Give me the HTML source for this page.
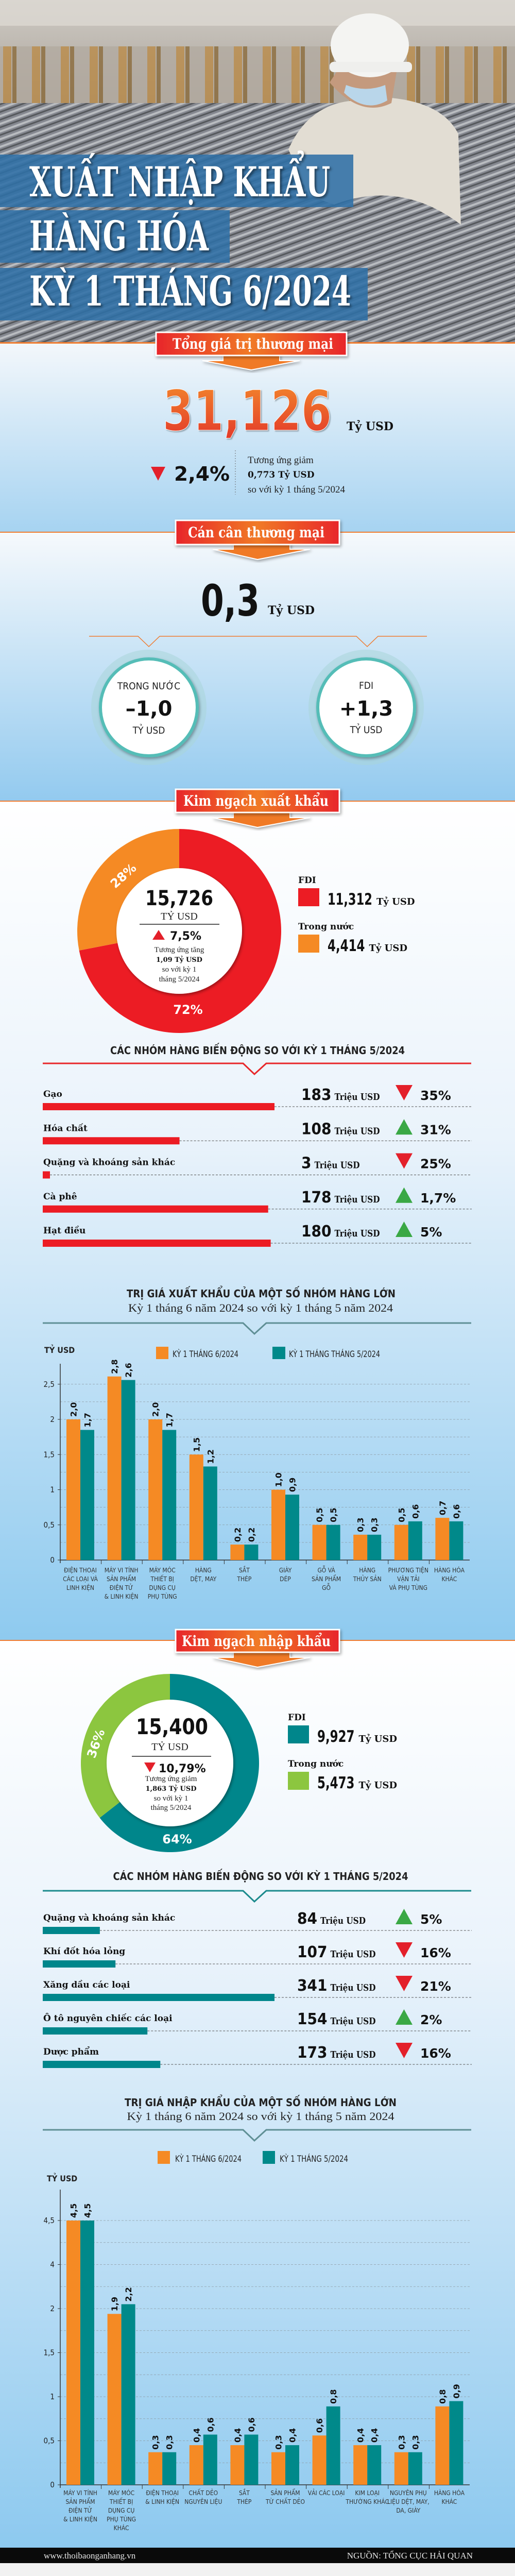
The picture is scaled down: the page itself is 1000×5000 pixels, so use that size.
<!DOCTYPE html>
<html lang="vi">
<head>
<meta charset="utf-8">
<title>Xuất nhập khẩu hàng hóa kỳ 1 tháng 6/2024</title>
<style>
html,body{margin:0;padding:0;background:#fff;}
body{width:1000px;height:5000px;overflow:hidden;}
svg{display:block;}
.sans{font-family:"Liberation Sans","DejaVu Sans",sans-serif;}
.narrow{font-family:"Liberation Sans Narrow","DejaVu Sans Condensed","Liberation Sans",sans-serif;}
.serif{font-family:"Liberation Serif","DejaVu Serif",serif;}
.slab{font-family:"DejaVu Serif","Liberation Serif",serif;font-weight:bold;}
.heavy{font-family:"DejaVu Sans","Liberation Sans",sans-serif;font-weight:bold;}
</style>
</head>
<body>
<svg id="page" width="1000" height="5000" viewBox="0 0 1000 5000" xmlns="http://www.w3.org/2000/svg">
<defs>
  <linearGradient id="g-s1" x1="0" y1="0" x2="0" y2="1"><stop offset="0" stop-color="#f3f7fb"/><stop offset="1" stop-color="#a6d3f1"/></linearGradient>
  <linearGradient id="g-s2" x1="0" y1="0" x2="0" y2="1"><stop offset="0" stop-color="#f6f9fc"/><stop offset="1" stop-color="#93caef"/></linearGradient>
  <linearGradient id="g-s3" x1="0" y1="0" x2="0" y2="1"><stop offset="0" stop-color="#ffffff"/><stop offset="0.4" stop-color="#eaf3fb"/><stop offset="1" stop-color="#8ecaef"/></linearGradient>
  <linearGradient id="g-s4" x1="0" y1="0" x2="0" y2="1"><stop offset="0" stop-color="#ffffff"/><stop offset="0.35" stop-color="#eaf3fb"/><stop offset="1" stop-color="#8dc9ef"/></linearGradient>
  <linearGradient id="g-ban" x1="0" y1="0" x2="1" y2="0"><stop offset="0" stop-color="#e8262a"/><stop offset="0.5" stop-color="#f07a26"/><stop offset="1" stop-color="#e8262a"/></linearGradient>
  <linearGradient id="g-big" x1="0" y1="0" x2="0" y2="1"><stop offset="0" stop-color="#f3892b"/><stop offset="1" stop-color="#e2342a"/></linearGradient>
  <linearGradient id="g-top" x1="0" y1="0" x2="0" y2="1"><stop offset="0" stop-color="#cfcbc5"/><stop offset="1" stop-color="#a49c92"/></linearGradient>
  <pattern id="p-coil" width="14" height="14" patternUnits="userSpaceOnUse" patternTransform="rotate(70)">
    <rect width="14" height="14" fill="#858890"/><rect width="4" height="14" fill="#b9bcc0"/><rect x="7" width="3" height="14" fill="#55585c"/>
  </pattern>
  <pattern id="p-orange" width="56" height="200" patternUnits="userSpaceOnUse">
    <rect width="56" height="200" fill="#b2aaa0"/><rect x="6" width="16" height="200" fill="#b98a48"/><rect x="24" width="8" height="200" fill="#8a6a3a"/>
  </pattern>
  <filter id="f-sh" x="-20%" y="-20%" width="140%" height="140%"><feDropShadow dx="2" dy="3" stdDeviation="3" flood-color="#000" flood-opacity="0.35"/></filter>
</defs>

<!-- HEADER PHOTO -->
<g>
  <rect x="0" y="0" width="1000" height="666" fill="#8a8c90"/>
  <rect x="0" y="0" width="1000" height="230" fill="url(#g-top)"/>
  <rect x="0" y="90" width="1000" height="140" fill="url(#p-orange)" opacity="0.8"/>
  <rect x="0" y="0" width="1000" height="50" fill="#dcd8d2" opacity="0.8"/>
  <rect x="0" y="200" width="1000" height="466" fill="url(#p-coil)"/>
  <path d="M560 290 Q600 200 690 195 L760 190 Q860 200 890 260 L895 440 L860 470 L600 380 Z" fill="#e2ddd3"/>
  <path d="M640 160 Q700 230 760 200 L770 140 L660 130 Z" fill="#c49a7e"/>
  <path d="M668 180 Q710 220 752 195 L748 165 Q710 180 672 165 Z" fill="#b9d6ea"/>
  <ellipse cx="718" cy="88" rx="76" ry="62" fill="#f4f4f2"/>
  <rect x="640" y="120" width="160" height="20" rx="8" fill="#efefed"/>
  <path d="M600 420 Q760 330 900 440 L900 666 L560 666 Z" fill="url(#p-coil)"/>
</g>

<!-- TITLE BANDS -->
<g>
  <rect x="0" y="300" width="686" height="102" fill="#2f6fa6" opacity="0.88"/>
  <rect x="0" y="408" width="446" height="102" fill="#2f6fa6" opacity="0.88"/>
  <rect x="0" y="520" width="714" height="102" fill="#2f6fa6" opacity="0.88"/>
  <g class="slab" fill="#fff" font-size="80" style="filter:drop-shadow(3px 3px 2px rgba(0,0,0,0.5))">
    <text x="57" y="381" textLength="584" lengthAdjust="spacingAndGlyphs">XUẤT NHẬP KHẨU</text>
    <text x="57" y="486" textLength="348" lengthAdjust="spacingAndGlyphs">HÀNG HÓA</text>
    <text x="57" y="593" textLength="625" lengthAdjust="spacingAndGlyphs">KỲ 1 THÁNG 6/2024</text>
  </g>
</g>

<!-- SECTION BACKGROUNDS -->
<rect x="0" y="666" width="1000" height="367" fill="url(#g-s1)"/>
<rect x="0" y="1033" width="1000" height="522" fill="url(#g-s2)"/>
<rect x="0" y="1555" width="1000" height="1629" fill="url(#g-s3)"/>
<rect x="0" y="3184" width="1000" height="1761" fill="url(#g-s4)"/>
<rect x="0" y="664" width="1000" height="3" fill="#ef7d32"/>
<rect x="0" y="1032" width="1000" height="2" fill="#ef7d32"/>
<rect x="0" y="1554" width="1000" height="2" fill="#ef7d32"/>
<rect x="0" y="3183" width="1000" height="2" fill="#ef7d32"/>

<!-- BANNERS -->
<g>
  <polygon points="433,688 543,688 543,700 582,700 488,718 393,700 433,700" fill="#f07a26" stroke="#fff" stroke-width="2" filter="url(#f-sh)"/>
  <rect x="303" y="645" width="370" height="45" fill="url(#g-ban)" stroke="#fff" stroke-width="3" filter="url(#f-sh)"/>
  <text class="slab" x="335" y="677" font-size="28" fill="#fff" textLength="312" lengthAdjust="spacingAndGlyphs">Tổng giá trị thương mại</text>
</g>
<g>
  <polygon points="453,1054 563,1054 563,1066 602,1066 500,1086 413,1066 453,1066" fill="#f07a26" stroke="#fff" stroke-width="2" filter="url(#f-sh)"/>
  <rect x="341" y="1010" width="318" height="47" fill="url(#g-ban)" stroke="#fff" stroke-width="3" filter="url(#f-sh)"/>
  <text class="slab" x="365" y="1043" font-size="28" fill="#fff" textLength="265" lengthAdjust="spacingAndGlyphs">Cán cân thương mại</text>
</g>
<g>
  <polygon points="453,1575 563,1575 563,1587 602,1587 500,1606 413,1587 453,1587" fill="#f07a26" stroke="#fff" stroke-width="2" filter="url(#f-sh)"/>
  <rect x="341" y="1532" width="318" height="45" fill="url(#g-ban)" stroke="#fff" stroke-width="3" filter="url(#f-sh)"/>
  <text class="slab" x="356" y="1564" font-size="28" fill="#fff" textLength="282" lengthAdjust="spacingAndGlyphs">Kim ngạch xuất khẩu</text>
</g>
<g>
  <polygon points="453,3205 563,3205 563,3217 602,3217 500,3236 413,3217 453,3217" fill="#f07a26" stroke="#fff" stroke-width="2" filter="url(#f-sh)"/>
  <rect x="341" y="3163" width="318" height="44" fill="url(#g-ban)" stroke="#fff" stroke-width="3" filter="url(#f-sh)"/>
  <text class="slab" x="353" y="3195" font-size="28" fill="#fff" textLength="289" lengthAdjust="spacingAndGlyphs">Kim ngạch nhập khẩu</text>
</g>

<!-- SECTION 1: TOTAL -->
<g>
  <text class="heavy" x="316" y="835" font-size="108" fill="url(#g-big)" stroke="#fff" stroke-width="1" textLength="328" lengthAdjust="spacingAndGlyphs" style="filter:drop-shadow(2px 2px 1px rgba(0,0,0,0.3))">31,126</text>
  <text class="slab" x="673" y="835" font-size="22" fill="#111">Tỷ USD</text>
  <polygon points="293,906 321,906 307,933" fill="#e3202a"/>
  <text class="heavy" x="338" y="933" font-size="38" fill="#111" textLength="108" lengthAdjust="spacingAndGlyphs">2,4%</text>
  <line x1="457" y1="874" x2="457" y2="960" stroke="#666" stroke-dasharray="2,3"/>
  <text class="serif" x="481" y="899" font-size="19" fill="#222">Tương ứng giảm</text>
  <text class="slab" x="481" y="927" font-size="17" fill="#111">0,773 Tỷ USD</text>
  <text class="serif" x="481" y="956" font-size="19" fill="#222">so với kỳ 1 tháng 5/2024</text>
</g>

<!-- SECTION 2: BALANCE -->
<g>
  <text class="heavy" x="390" y="1195" font-size="84" fill="#111" textLength="114" lengthAdjust="spacingAndGlyphs">0,3</text>
  <text class="slab" x="520" y="1192" font-size="22" fill="#111">Tỷ USD</text>
  <polyline points="173,1235 268,1235 289,1255 310,1235 692,1235 713,1255 734,1235 829,1235" fill="none" stroke="#ef7d32" stroke-width="1.5"/>
  <g>
    <circle cx="289" cy="1373" r="112" fill="#a9d6d8" opacity="0.55"/>
    <circle cx="289" cy="1373" r="94" fill="#fff" stroke="#55bdb7" stroke-width="6" filter="url(#f-sh)"/>
    <text class="narrow" x="289" y="1338" font-size="19" fill="#222" text-anchor="middle">TRONG NƯỚC</text>
    <text class="heavy" x="289" y="1389" font-size="40" fill="#111" text-anchor="middle">–1,0</text>
    <text class="narrow" x="289" y="1424" font-size="19" fill="#222" text-anchor="middle">TỶ USD</text>
  </g>
  <g>
    <circle cx="711" cy="1373" r="112" fill="#a9d6d8" opacity="0.55"/>
    <circle cx="711" cy="1373" r="94" fill="#fff" stroke="#55bdb7" stroke-width="6" filter="url(#f-sh)"/>
    <text class="narrow" x="711" y="1337" font-size="19" fill="#222" text-anchor="middle">FDI</text>
    <text class="heavy" x="711" y="1389" font-size="40" fill="#111" text-anchor="middle">+1,3</text>
    <text class="narrow" x="711" y="1423" font-size="19" fill="#222" text-anchor="middle">TỶ USD</text>
  </g>
</g>

<!-- EXPORT DONUT -->
<g id="export-donut"></g>
<g>
  <circle cx="348" cy="1807" r="122" fill="#fff" filter="url(#f-sh)"/>
  <text class="heavy" x="348" y="1757" font-size="40" fill="#111" text-anchor="middle" textLength="132" lengthAdjust="spacingAndGlyphs">15,726</text>
  <text class="serif" x="348" y="1785" font-size="20" fill="#222" text-anchor="middle">TỶ USD</text>
  <line x1="271" y1="1794" x2="426" y2="1794" stroke="#222" stroke-width="1.5"/>
  <polygon points="296,1824 320,1824 308,1805" fill="#e3202a"/>
  <text class="heavy" x="330" y="1824" font-size="22" fill="#111">7,5%</text>
  <text class="serif" x="348" y="1848" font-size="15" fill="#222" text-anchor="middle">Tương ứng tăng</text>
  <text class="slab" x="348" y="1867" font-size="13" fill="#111" text-anchor="middle">1,09 Tỷ USD</text>
  <text class="serif" x="348" y="1886" font-size="15" fill="#222" text-anchor="middle">so với kỳ 1</text>
  <text class="serif" x="348" y="1905" font-size="15" fill="#222" text-anchor="middle">tháng 5/2024</text>
</g>
<g id="export-legend"></g>

<g id="export-rows">
  <text class="narrow" x="500" y="2046" font-size="20" fill="#222" text-anchor="middle" textLength="572" lengthAdjust="spacingAndGlyphs" font-weight="bold">CÁC NHÓM HÀNG BIẾN ĐỘNG SO VỚI KỲ 1 THÁNG 5/2024</text>
  <polyline points="83,2064 472,2064 494,2085 517,2064 915,2064" fill="none" stroke="#e8282a" stroke-width="3"/>
</g>

<g id="export-chart">
  <text class="narrow" x="507" y="2518" font-size="20" fill="#222" text-anchor="middle" font-weight="bold" textLength="522" lengthAdjust="spacingAndGlyphs">TRỊ GIÁ XUẤT KHẨU CỦA MỘT SỐ NHÓM HÀNG LỚN</text>
  <text class="serif" x="506" y="2546" font-size="22" fill="#222" text-anchor="middle" textLength="514" lengthAdjust="spacingAndGlyphs">Kỳ 1 tháng 6 năm 2024 so với kỳ 1 tháng 5 năm 2024</text>
  <polyline points="83,2568 472,2568 494,2589 517,2568 915,2568" fill="none" stroke="#5f8f95" stroke-width="3"/>
  <text class="narrow" x="86" y="2626" font-size="16" fill="#222" font-weight="bold">TỶ USD</text>
  <rect x="303" y="2614" width="24" height="24" fill="#f58a24"/>
  <text class="narrow" x="335" y="2634" font-size="17" fill="#222" textLength="128" lengthAdjust="spacingAndGlyphs">KỲ 1 THÁNG 6/2024</text>
  <rect x="529" y="2614" width="25" height="24" fill="#00898a"/>
  <text class="narrow" x="561" y="2634" font-size="17" fill="#222" textLength="177" lengthAdjust="spacingAndGlyphs">KỲ 1 THÁNG THÁNG 5/2024</text>
</g>

<!-- IMPORT -->
<g id="import-donut"></g>
<g>
  <circle cx="330" cy="3422" r="123" fill="#fff" filter="url(#f-sh)"/>
  <text class="heavy" x="334" y="3366" font-size="42" fill="#111" text-anchor="middle" textLength="140" lengthAdjust="spacingAndGlyphs">15,400</text>
  <text class="serif" x="330" y="3397" font-size="20" fill="#222" text-anchor="middle">TỶ USD</text>
  <line x1="256" y1="3409" x2="410" y2="3409" stroke="#222" stroke-width="1.5"/>
  <polygon points="280,3421 302,3421 291,3440" fill="#e3202a"/>
  <text class="heavy" x="308" y="3440" font-size="22" fill="#111">10,79%</text>
  <text class="serif" x="332" y="3457" font-size="15" fill="#222" text-anchor="middle">Tương ứng giảm</text>
  <text class="slab" x="332" y="3476" font-size="13" fill="#111" text-anchor="middle">1,863  Tỷ USD</text>
  <text class="serif" x="332" y="3495" font-size="15" fill="#222" text-anchor="middle">so với kỳ 1</text>
  <text class="serif" x="332" y="3513" font-size="15" fill="#222" text-anchor="middle">tháng 5/2024</text>
</g>
<g id="import-legend"></g>

<g id="import-rows">
  <text class="narrow" x="506" y="3649" font-size="20" fill="#222" text-anchor="middle" font-weight="bold" textLength="573" lengthAdjust="spacingAndGlyphs">CÁC NHÓM HÀNG BIẾN ĐỘNG SO VỚI KỲ 1 THÁNG 5/2024</text>
  <polyline points="83,3670 472,3670 494,3691 517,3670 915,3670" fill="none" stroke="#1a8a8c" stroke-width="3"/>
</g>

<g id="import-chart">
  <text class="narrow" x="506" y="4088" font-size="20" fill="#222" text-anchor="middle" font-weight="bold" textLength="528" lengthAdjust="spacingAndGlyphs">TRỊ GIÁ NHẬP KHẨU CỦA MỘT SỐ NHÓM HÀNG LỚN</text>
  <text class="serif" x="506" y="4115" font-size="22" fill="#222" text-anchor="middle" textLength="519" lengthAdjust="spacingAndGlyphs">Kỳ 1 tháng  6 năm 2024 so với kỳ 1 tháng 5 năm 2024</text>
  <polyline points="83,4134 472,4134 494,4155 517,4134 915,4134" fill="none" stroke="#5f8f95" stroke-width="3"/>
  <rect x="306" y="4175" width="24" height="25" fill="#f58a24"/>
  <text class="narrow" x="340" y="4196" font-size="17" fill="#222" textLength="129" lengthAdjust="spacingAndGlyphs">KỲ 1 THÁNG 6/2024</text>
  <rect x="510" y="4175" width="24" height="25" fill="#00898a"/>
  <text class="narrow" x="543" y="4196" font-size="17" fill="#222" textLength="133" lengthAdjust="spacingAndGlyphs">KỲ 1  THÁNG 5/2024</text>
  <text class="narrow" x="91" y="4234" font-size="16" fill="#222" font-weight="bold">TỶ USD</text>
</g>

<!-- FOOTER -->
<g>
  <rect x="0" y="4945" width="1000" height="30" fill="#0a0a0a"/>
  <rect x="0" y="4975" width="1000" height="25" fill="#f2f2f2"/>
  <text class="serif" x="85" y="4966" font-size="17" fill="#e8e8e8">www.thoibaonganhang.vn</text>
  <text class="serif" x="918" y="4966" font-size="17" fill="#e8e8e8" text-anchor="end">NGUỒN: TỔNG CỤC HẢI QUAN</text>
</g>
</svg>

<script>
// ---------- DATA ----------
const exportDonutLabels = ["FDI", "Trong nước"];
const exportDonutValues = [11.312, 4.414];
const exportDonutText = ["11,312", "4,414"];
const exportDonutPct = ["72%", "28%"];

const importDonutLabels = ["FDI", "Trong nước"];
const importDonutValues = [9.927, 5.473];
const importDonutText = ["9,927", "5,473"];
const importDonutPct = ["64%", "36%"];

const exportRowNames = ["Gạo", "Hóa chất", "Quặng và khoáng sản khác", "Cà phê", "Hạt điều"];
const exportRowValues = [183, 108, 3, 178, 180];
const exportRowPct = ["35%", "31%", "25%", "1,7%", "5%"];
const exportRowUp = [false, true, false, true, true];

const importRowNames = ["Quặng và khoáng sản khác", "Khí đốt hóa lỏng", "Xăng dầu các loại", "Ô tô nguyên chiếc các loại", "Dược phẩm"];
const importRowValues = [84, 107, 341, 154, 173];
const importRowPct = ["5%", "16%", "21%", "2%", "16%"];
const importRowUp = [true, false, false, true, false];

const exportCategories = [
  ["ĐIỆN THOẠI","CÁC LOẠI VÀ","LINH KIỆN"],
  ["MÁY VI TÍNH","SẢN PHẨM","ĐIỆN TỬ","& LINH KIỆN"],
  ["MÁY MÓC","THIẾT BỊ","DỤNG CỤ","PHỤ TÙNG"],
  ["HÀNG","DỆT, MAY"],
  ["SẮT","THÉP"],
  ["GIÀY","DÉP"],
  ["GỖ VÀ","SẢN PHẨM","GỖ"],
  ["HÀNG","THỦY SẢN"],
  ["PHƯƠNG TIỆN","VẬN TẢI","VÀ PHỤ TÙNG"],
  ["HÀNG HÓA","KHÁC"]
];
const exportJun = [2.0, 2.61, 2.0, 1.5, 0.22, 1.0, 0.5, 0.36, 0.5, 0.6];
const exportMay = [1.85, 2.56, 1.85, 1.33, 0.22, 0.93, 0.5, 0.36, 0.55, 0.55];
const exportJunText = ["2,0","2,8","2,0","1,5","0,2","1,0","0,5","0,3","0,5","0,7"];
const exportMayText = ["1,7","2,6","1,7","1,2","0,2","0,9","0,5","0,3","0,6","0,6"];
const exportTicks = [0, 0.5, 1, 1.5, 2, 2.5];
const exportTickText = ["0","0,5","1","1,5","2","2,5"];

const importCategories = [
  ["MÁY VI TÍNH","SẢN PHẨM","ĐIỆN TỬ","& LINH KIỆN"],
  ["MÁY MÓC","THIẾT BỊ","DỤNG CỤ","PHỤ TÙNG","KHÁC"],
  ["ĐIỆN THOẠI","& LINH KIỆN"],
  ["CHẤT DẺO","NGUYÊN LIỆU"],
  ["SẮT","THÉP"],
  ["SẢN PHẨM","TỪ CHẤT DẺO"],
  ["VẢI CÁC LOẠI"],
  ["KIM LOẠI","THƯỜNG KHÁC"],
  ["NGUYÊN PHỤ","LIỆU DỆT, MAY,","DA, GIÀY"],
  ["HÀNG HÓA","KHÁC"]
];
const importJun = [4.5, 1.94, 0.37, 0.45, 0.45, 0.37, 0.56, 0.45, 0.37, 0.89];
const importMay = [4.5, 2.2, 0.37, 0.57, 0.57, 0.45, 0.89, 0.45, 0.37, 0.95];
const importJunText = ["4,5","1,9","0,3","0,4","0,4","0,3","0,6","0,4","0,3","0,8"];
const importMayText = ["4,5","2,2","0,3","0,6","0,6","0,4","0,8","0,4","0,3","0,9"];
const importTicks = [0, 0.5, 1, 1.5, 2, 4, 4.5];
const importTickText = ["0","0,5","1","1,5","2","4","4,5"];

// ---------- HELPERS ----------
const NS = "http://www.w3.org/2000/svg";
function mk(tag, attrs, parent) {
  const e = document.createElementNS(NS, tag);
  for (const k in attrs) e.setAttribute(k, attrs[k]);
  parent.appendChild(e);
  return e;
}
function txt(str, attrs, parent) {
  const t = mk("text", attrs, parent);
  t.textContent = str;
  return t;
}
function pt(cx, cy, r, a) {
  const rad = (a - 90) * Math.PI / 180;
  return [cx + r * Math.cos(rad), cy + r * Math.sin(rad)];
}
function arc(cx, cy, r0, r1, a0, a1) {
  const large = (a1 - a0) > 180 ? 1 : 0;
  const p1 = pt(cx, cy, r1, a0), p2 = pt(cx, cy, r1, a1), p3 = pt(cx, cy, r0, a1), p4 = pt(cx, cy, r0, a0);
  return `M${p1[0]},${p1[1]} A${r1},${r1} 0 ${large} 1 ${p2[0]},${p2[1]} L${p3[0]},${p3[1]} A${r0},${r0} 0 ${large} 0 ${p4[0]},${p4[1]} Z`;
}

// ---------- DONUTS ----------
function donut(gid, cx, cy, r0, r1, values, colors, pctText, pctPos, legId, legX, legY, labels, valText) {
  const g = document.getElementById(gid);
  const total = values.reduce((a, b) => a + b, 0);
  let a = 0;
  values.forEach((v, i) => {
    const sweep = v / total * 360;
    const p = mk("path", { d: arc(cx, cy, r0, r1, a, a + sweep), fill: colors[i] }, g);
    
    
    a += sweep;
  });
  pctText.forEach((s, i) => {
    const t = txt(s, { x: cx + pctPos[i][0], y: cy + pctPos[i][1], "font-size": 24, fill: "#fff", "text-anchor": "middle", class: "heavy", transform: `rotate(${pctPos[i][2]} ${cx + pctPos[i][0]} ${cy + pctPos[i][1]})` }, g);
    
    
  });
  const lg = document.getElementById(legId);
  labels.forEach((l, i) => {
    const y0 = legY + i * 90;
    const t1 = txt(l, { x: legX, y: y0, "font-size": 17, fill: "#111", class: "slab" }, lg);
    
    
    const sq = mk("rect", { x: legX, y: y0 + 10, width: 41, height: 35, fill: colors[i] }, lg);
    
    
    const w = valText[i].length * 14.5;
    const t2 = txt(valText[i], { x: legX + 57, y: y0 + 42, "font-size": 31, fill: "#111", class: "heavy", textLength: w, lengthAdjust: "spacingAndGlyphs" }, lg);
    
    
    const t3 = txt("Tỷ USD", { x: legX + 65 + w, y: y0 + 42, "font-size": 18, fill: "#111", class: "slab" }, lg);
    
    
  });
}
donut("export-donut", 348, 1807, 120, 198, exportDonutValues, ["#ec1c24", "#f58a24"], exportDonutPct,
  [[17, 161, 0], [-103, -101, -42]], "export-legend", 579, 1714, exportDonutLabels, exportDonutText);
donut("import-donut", 330, 3422, 120, 173, importDonutValues, ["#00868b", "#8cc63f"], importDonutPct,
  [[14, 156, 0], [-136, -35, -70]], "import-legend", 559, 3339, importDonutLabels, importDonutText);

// ---------- ROWS ----------
function rows(gid, names, values, pct, up, y0, step, scale, barColor, valX) {
  const g = document.getElementById(gid);
  names.forEach((n, i) => {
    const yl = y0 + i * step;
    const yb = yl + 25;
    const t = txt(n, { x: 84, y: yl + 6, "font-size": 17, fill: "#111", class: "slab" }, g);
    
    
    const w = Math.max(14, values[i] * scale);
    mk("line", { x1: 83 + w, y1: yb, x2: 916, y2: yb, stroke: "#555", "stroke-width": 1, "stroke-dasharray": "4,3" }, g);
    const b = mk("rect", { x: 83, y: yb - 7, width: w, height: 14, fill: barColor }, g);
    
    
    const vs = String(values[i]);
    const vw = vs.length * 19.5;
    const v = txt(vs, { x: valX, y: yl + 12, "font-size": 30, fill: "#111", class: "heavy", textLength: vw, lengthAdjust: "spacingAndGlyphs" }, g);
    
    
    const u = txt("Triệu USD", { x: valX + vw + 6, y: yl + 12, "font-size": 18, fill: "#111", class: "slab", textLength: 88, lengthAdjust: "spacingAndGlyphs" }, g);
    
    
    const tri = up[i] ? `768,${yl + 13} 801,${yl + 13} 784.5,${yl - 17}` : `768,${yl - 17} 801,${yl - 17} 784.5,${yl + 13}`;
    const tr = mk("polygon", { points: tri, fill: up[i] ? "#3aa845" : "#e3202a" }, g);
    
    
    const p = txt(pct[i], { x: 816, y: yl + 12, "font-size": 25, fill: "#111", class: "heavy" }, g);
    
    
  });
}
rows("export-rows", exportRowNames, exportRowValues, exportRowPct, exportRowUp, 2123, 66.25, 450 / 183, "#ec1c24", 585);
rows("import-rows", importRowNames, importRowValues, importRowPct, importRowUp, 3722, 65, 450 / 341, "#00868b", 577);

// ---------- BAR CHARTS ----------
function barChart(gid, cats, jun, may, junT, mayT, ticks, tickT, yScale, tickY, base, top, gridYs, catY) {
  const g = document.getElementById(gid);
  gridYs.forEach(y => mk("line", { x1: 117, y1: y, x2: 912, y2: y, stroke: "#8d9aa3", "stroke-width": 0.8, "stroke-dasharray": "4,3" }, g));
  ticks.forEach((v, i) => {
    const y = tickY(i);
    const t = txt(tickT[i], { x: 106, y: y + 5, "font-size": 15, fill: "#222", "text-anchor": "end", class: "narrow" }, g);
    
    
    mk("line", { x1: 112, y1: y, x2: 117, y2: y, stroke: "#333", "stroke-width": 1 }, g);
  });
  mk("line", { x1: 117, y1: top, x2: 117, y2: base + 6, stroke: "#333", "stroke-width": 1.5 }, g);
  mk("line", { x1: 117, y1: base, x2: 912, y2: base, stroke: "#333", "stroke-width": 1.5 }, g);
  const gw = 79.6;
  cats.forEach((c, i) => {
    const x0 = 129 + i * gw;
    if (i > 0) mk("line", { x1: x0 - 12, y1: base, x2: x0 - 12, y2: base + 8, stroke: "#333", "stroke-width": 1 }, g);
    const yj = yScale(jun[i]), ym = yScale(may[i]);
    const b1 = mk("rect", { x: x0, y: yj, width: 27, height: base - yj, fill: "#f58a24" }, g);
    
    
    const b2 = mk("rect", { x: x0 + 27, y: ym, width: 27, height: base - ym, fill: "#00898a" }, g);
    
    
    const l1 = txt(junT[i], { x: x0 + 19.5, y: yj - 5, "font-size": 16, fill: "#111", class: "heavy", transform: `rotate(-90 ${x0 + 19.5} ${yj - 5})` }, g);
    
    
    const l2 = txt(mayT[i], { x: x0 + 46.5, y: ym - 5, "font-size": 16, fill: "#111", class: "heavy", transform: `rotate(-90 ${x0 + 46.5} ${ym - 5})` }, g);
    
    
    c.forEach((line, k) => {
      const t = txt(line, { x: x0 + 27, y: catY + k * 17, "font-size": 12, fill: "#333", "text-anchor": "middle", class: "narrow" }, g);
      
      
    });
  });
}
const exBase = 3028, exUnit = 136.5;
const exY = v => exBase - v * exUnit;
const exGrid = [];
for (let k = 1; k <= 10; k++) exGrid.push(exY(k * 0.25));
barChart("export-chart", exportCategories, exportJun, exportMay, exportJunText, exportMayText,
  exportTicks, exportTickText, exY, i => exY(exportTicks[i]), exBase, 2647, exGrid, 3052);

const imBase = 4823, imUnit = 171;
const imY = v => {
  if (v <= 2) return imBase - v * imUnit;
  if (v <= 4) return imBase - 2 * imUnit - (v - 2) * imUnit / 4;
  return imBase - 2.5 * imUnit - (v - 4) * imUnit;
};
const imGrid = [];
for (let k = 1; k <= 12; k++) imGrid.push(imBase - k * imUnit / 4);
barChart("import-chart", importCategories, importJun, importMay, importJunText, importMayText,
  importTicks, importTickText, imY, i => imBase - i * imUnit / 2, imBase, 4250, imGrid, 4843);
</script>
</body>
</html>
